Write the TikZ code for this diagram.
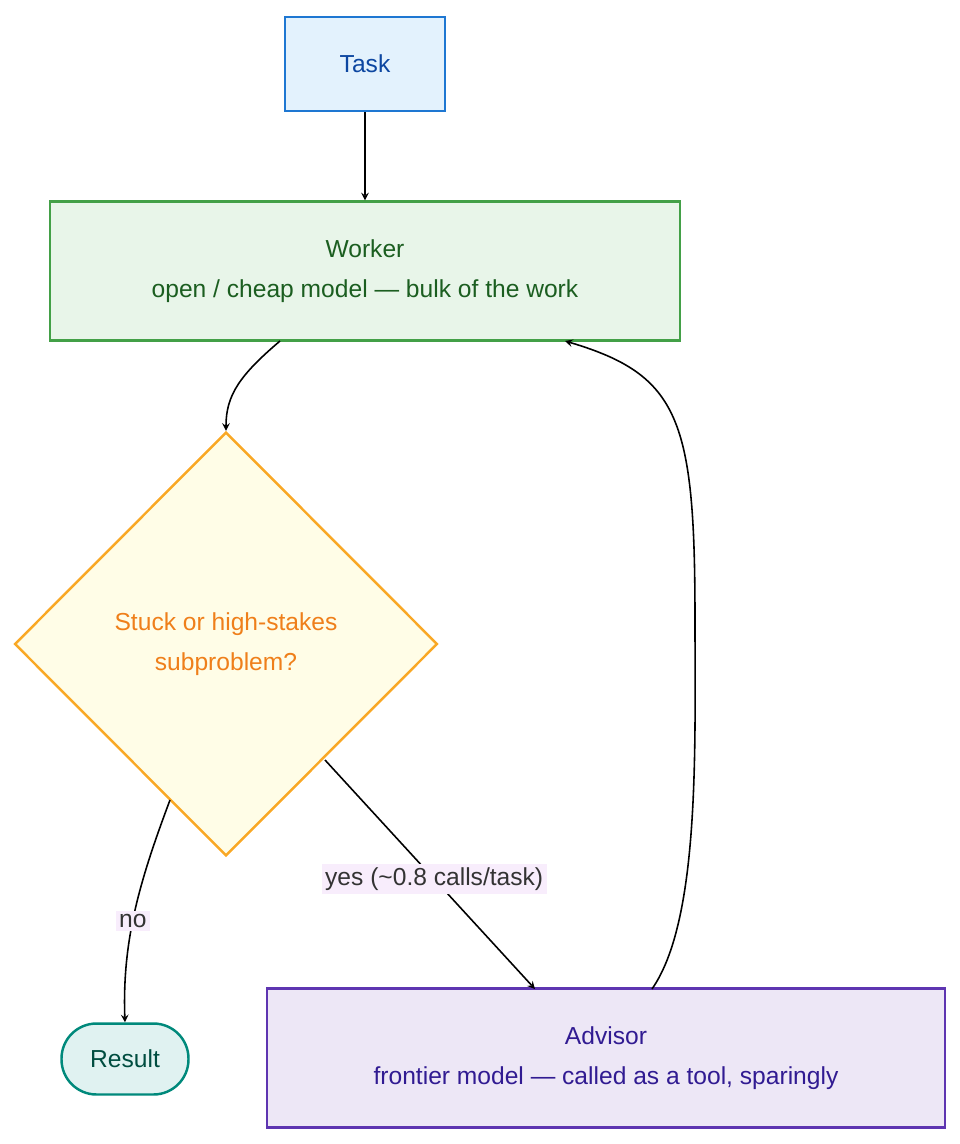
\documentclass[tikz,border=0pt]{standalone}
\usepackage{fontspec}
\setmainfont{Liberation Sans}
\usepackage{tikz,xcolor}
\usetikzlibrary{shapes.geometric, arrows, positioning}

\begin{document}
\begin{tikzpicture}[x=0.02cm, y=-0.02cm, font=\fontsize{14}{17}\selectfont]

\definecolor{taskfill}{HTML}{E3F2FD}
\definecolor{taskline}{HTML}{1E77D2}
\definecolor{tasktext}{HTML}{0D47A1}
\definecolor{workfill}{HTML}{E8F5E9}
\definecolor{workline}{HTML}{43A047}
\definecolor{worktext}{HTML}{1B5E20}
\definecolor{askfill}{HTML}{FFFDE7}
\definecolor{askline}{HTML}{F9A825}
\definecolor{asktext}{HTML}{EF7F1A}
\definecolor{advfill}{HTML}{EDE7F6}
\definecolor{advline}{HTML}{5E35B1}
\definecolor{advtext}{HTML}{311B92}
\definecolor{resfill}{HTML}{E0F2F1}
\definecolor{resline}{HTML}{00897B}
\definecolor{restext}{HTML}{004D40}
\definecolor{labelfill}{HTML}{F8EDFC}

\tikzstyle{box} = [rectangle, line width=1.4pt, align=center, inner sep=0pt]
\tikzstyle{choice} = [diamond, line width=1.4pt, align=center, minimum width=8.46cm, minimum height=8.48cm, inner sep=0pt]
\tikzstyle{ending} = [rectangle, rounded corners=0.7cm, line width=1.4pt, inner sep=0pt]
\tikzstyle{arrow} = [->, line width=0.9pt, >=stealth]
\tikzstyle{tag} = [fill=labelfill, inner sep=2pt, text=black!80]

\useasboundingbox (0,0) rectangle (960,1144);

\node[box, draw=taskline, fill=taskfill, text=tasktext, minimum width=3.2cm, minimum height=1.88cm] (task) at (365,64) {Task};
\node[box, draw=workline, fill=workfill, text=worktext, minimum width=12.6cm, minimum height=2.78cm] (worker) at (365,271) {Worker\\[6pt]open / cheap model --- bulk of the work};
\node[choice, draw=askline, fill=askfill, text=asktext] (stuck) at (226,644) {Stuck or high-stakes\\[6pt]subproblem?};
\node[box, draw=advline, fill=advfill, text=advtext, minimum width=13.56cm, minimum height=2.78cm] (advisor) at (606,1058) {Advisor\\[6pt]frontier model --- called as a tool, sparingly};
\node[ending, draw=resline, fill=resfill, text=restext, minimum width=2.54cm, minimum height=1.42cm] (result) at (125,1059) {Result};

\draw[arrow] (task) -- (worker);
\draw[arrow] (280,341) .. controls (240,375) and (226,395) .. (stuck.north);
\draw[arrow] (170,800) .. controls (140,880) and (122,940) .. (result.north) node[pos=0.55, tag] {no};
\draw[arrow] (325,760) -- (535,989) node[pos=0.52, tag] {yes (\textasciitilde 0.8 calls/task)};
\draw[arrow] (652,989) .. controls (700,920) and (695,750) .. (695,620) .. controls (695,420) and (680,375) .. (565,341);

\end{tikzpicture}
\end{document}
